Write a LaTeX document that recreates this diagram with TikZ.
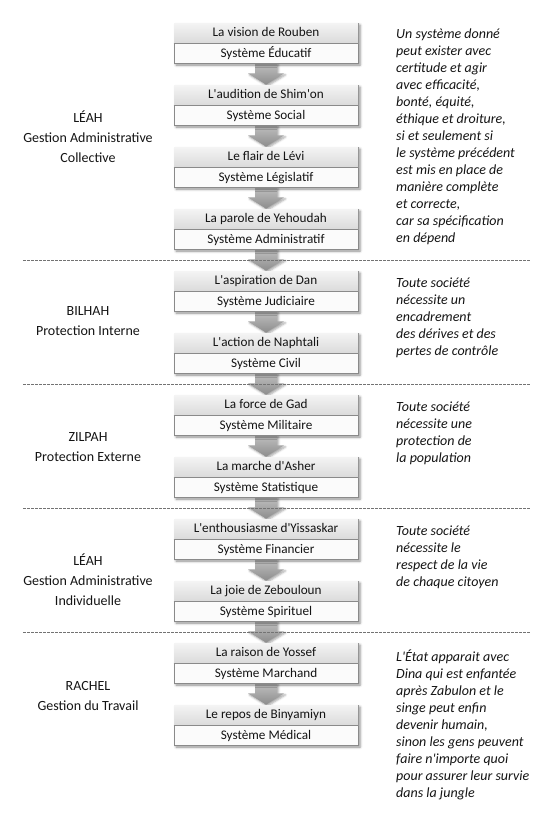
\documentclass[tikz,border=0pt]{standalone}
\usepackage{fontspec}
\setmainfont{Carlito}[Ligatures=TeXOff]
\usetikzlibrary{shadows.blur,backgrounds}
\definecolor{boxline}{HTML}{8A8A8A}
\definecolor{rowtop}{HTML}{F4F4F4}
\definecolor{rowbot}{HTML}{DADADA}
\definecolor{rowlow}{HTML}{FBFBFB}
\definecolor{inkc}{HTML}{141414}
\begin{document}
\begin{tikzpicture}[x=1pt,y=-1pt,
  stagebox/.style={draw=boxline, line width=0.8pt, minimum width=184pt,
    minimum height=40pt, inner sep=0pt, fill=rowlow,
    blur shadow={shadow xshift=2pt, shadow yshift=-2pt,
      shadow blur radius=2.5pt, shadow opacity=45}},
  rowtext/.style={font=\fontsize{13.2}{15}\selectfont, text=inkc,
    text height=9.5pt, text depth=3pt, inner sep=0pt},
  flowarrow/.style={draw=none, top color=black!25, bottom color=black!45,
    blur shadow={shadow xshift=1.5pt, shadow yshift=-1.5pt,
      shadow blur radius=2pt, shadow opacity=35}},
  sepline/.style={draw=black!55, line width=0.6pt, dash pattern=on 2.5pt off 1.5pt},
  grouplabel/.style={align=center, text=inkc, inner sep=0pt,
    font=\fontsize{14}{20}\selectfont},
  note/.style={align=left, text=inkc, inner sep=0pt, anchor=north west,
    font=\fontsize{14}{17}\selectfont\itshape}]

\useasboundingbox (0,0) rectangle (550,820);

% the twelve stages, each a titled box with its system below
\foreach \k/\stagename/\sysname in {
  0/La vision de Rouben/Système Éducatif,
  1/L'audition de Shim'on/Système Social,
  2/Le flair de Lévi/Système Législatif,
  3/La parole de Yehoudah/Système Administratif,
  4/L'aspiration de Dan/Système Judiciaire,
  5/L'action de Naphtali/Système Civil,
  6/La force de Gad/Système Militaire,
  7/La marche d'Asher/Système Statistique,
  8/L'enthousiasme d'Yissaskar/Système Financier,
  9/La joie de Zebouloun/Système Spirituel,
  10/La raison de Yossef/Système Marchand,
  11/Le repos de Binyamiyn/Système Médical} {
  \node[stagebox] (b\k) at (266,{43+62*\k}) {};
  \shade[top color=rowtop, bottom color=rowbot]
    ([xshift=0.4pt,yshift=-0.4pt]b\k.north west) rectangle
    ([xshift=-0.4pt,yshift=-21pt]b\k.north east);
  \draw[boxline, line width=0.8pt]
    ([yshift=-21pt]b\k.north west) -- ([yshift=-21pt]b\k.north east);
  \node[rowtext] at ([yshift=-10.5pt]b\k.north) {\stagename};
  \node[rowtext] at ([yshift=9.5pt]b\k.south) {\sysname};
}

% block arrows leading from each stage to the next
\begin{pgfonlayer}{background}
\foreach \k in {0,...,10} {
  \pgfmathtruncatemacro\nxt{\k+1}
  \path[flowarrow]
    ([xshift=-11pt]b\k.south) -- ([xshift=-11pt,yshift=-10pt]b\k.south)
    -- ([xshift=-18pt,yshift=-10pt]b\k.south) -- (b\nxt.north)
    -- ([xshift=18pt,yshift=-10pt]b\k.south)
    -- ([xshift=11pt,yshift=-10pt]b\k.south) -- ([xshift=11pt]b\k.south)
    -- cycle;
}
\end{pgfonlayer}

% separators between the groups
\foreach \yy in {260,384,508,632}
  \draw[sepline] (23,\yy) -- (530,\yy);

% group names
\node[grouplabel] (g1) at (88,137) {LÉAH\\Gestion Administrative\\Collective};
\node[grouplabel] (g2) at (88,321) {BILHAH\\Protection Interne};
\node[grouplabel] (g3) at (88,447) {ZILPAH\\Protection Externe};
\node[grouplabel] (g4) at (88,580) {LÉAH\\Gestion Administrative\\Individuelle};
\node[grouplabel] (g5) at (88,696) {RACHEL\\Gestion du Travail};

% commentary beside each group
\node[note] (n1) at (396,28.5) {Un système donné\\peut exister avec\\certitude et agir\\avec efficacité,\\bonté, équité,\\éthique et droiture,\\si et seulement si\\le système précédent\\est mis en place de\\manière complète\\et correcte,\\car sa spécification\\en dépend};
\node[note] (n2) at (396,277.5) {Toute société\\nécessite un\\encadrement\\des dérives et des\\pertes de contrôle};
\node[note] (n3) at (396,401.5) {Toute société\\nécessite une\\protection de\\la population};
\node[note] (n4) at (396,525.5) {Toute société\\nécessite le\\respect de la vie\\de chaque citoyen};
\node[note] (n5) at (396,649.5) {L'État apparait avec\\Dina qui est enfantée\\après Zabulon et le\\singe peut enfin\\devenir humain,\\sinon les gens peuvent\\faire n'importe quoi\\pour assurer leur survie\\dans la jungle};
\end{tikzpicture}
\end{document}
